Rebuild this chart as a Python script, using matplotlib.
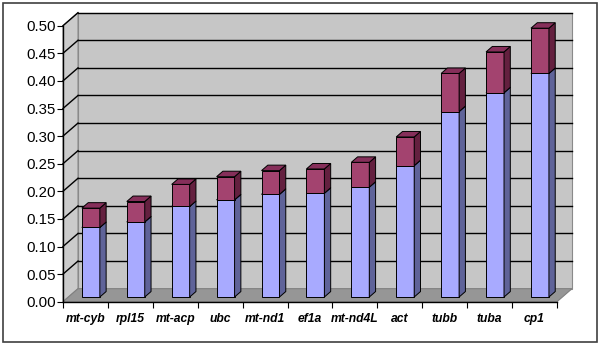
import matplotlib.pyplot as plt
from matplotlib.patches import Polygon, Rectangle

genes = ['mt-cyb', 'rpl15', 'mt-acp', 'ubc', 'mt-nd1', 'ef1a', 'mt-nd4L', 'act', 'tubb', 'tuba', 'cp1']
lower = [0.126, 0.136, 0.164, 0.176, 0.186, 0.188, 0.199, 0.238, 0.336, 0.370, 0.405]
total = [0.161, 0.173, 0.204, 0.218, 0.229, 0.232, 0.244, 0.290, 0.405, 0.444, 0.487]
yticks = [0.0, 0.05, 0.1, 0.15, 0.2, 0.25, 0.3, 0.35, 0.4, 0.45, 0.5]

# depth of the fake 3d box, in data units
DX = 0.334
DY = 0.0236
BAR_FRONT = 0.36
BAR_BACK = 0.78
BAR_W = 0.4

plt.rcParams['font.family'] = ['Liberation Sans', 'DejaVu Sans']

fig = plt.figure(figsize=(6.0, 3.45), dpi=100)
ax = fig.add_axes([63 / 600, 43.3 / 345, 494 / 600, 276 / 345])
ax.set_xlim(0, len(genes))
ax.set_ylim(0, 0.5)
ax.patch.set_visible(False)

n = len(genes)
top = 0.5

# walls and floor
back = Polygon([(DX, DY), (n + DX, DY), (n + DX, top + DY), (DX, top + DY)],
               facecolor='#c6c6c6', edgecolor='#8a8a8a', lw=0.8, clip_on=False, zorder=1)
side = Polygon([(0, 0), (DX, DY), (DX, top + DY), (0, top)],
               facecolor='#cbcbcb', edgecolor='#8a8a8a', lw=0.8, clip_on=False, zorder=1)
floor = Polygon([(0, 0), (n, 0), (n + DX, DY), (DX, DY)],
                facecolor='#969696', edgecolor='#808080', lw=0.8, clip_on=False, zorder=1)
for p in (back, side, floor):
    ax.add_patch(p)

# gridlines on back wall and side wall
for v in yticks[1:]:
    ax.plot([DX, n + DX], [v + DY, v + DY], color='black', lw=1.0, zorder=2, clip_on=False)
    ax.plot([0, DX], [v, v + DY], color='black', lw=1.0, zorder=2, clip_on=False)


def box(x0, y0, y1, front, topc, sidec, z):
    fx, fy = BAR_FRONT * DX, BAR_FRONT * DY
    bx, by = BAR_BACK * DX, BAR_BACK * DY
    l, r = x0 + fx, x0 + BAR_W + fx
    b, t = y0 + fy, y1 + fy
    sx, sy = bx - fx, by - fy
    ax.add_patch(Polygon([(l, b), (r, b), (r, t), (l, t)], facecolor=front,
                         edgecolor='black', lw=0.7, zorder=z, clip_on=False))
    ax.add_patch(Polygon([(r, b), (r + sx, b + sy), (r + sx, t + sy), (r, t)], facecolor=sidec,
                         edgecolor='black', lw=0.7, zorder=z, clip_on=False))
    ax.add_patch(Polygon([(l, t), (r, t), (r + sx, t + sy), (l + sx, t + sy)], facecolor=topc,
                         edgecolor='black', lw=0.7, zorder=z, clip_on=False))


for i in range(n):
    x0 = i + 0.5 - BAR_W / 2
    box(x0, 0, lower[i], '#a8aaff', '#8a8cd6', '#5f6399', 3 + i)
    box(x0, lower[i], total[i], '#a3436f', '#862f5a', '#64203f', 3 + i)

# axes
for s in ('top', 'right'):
    ax.spines[s].set_visible(False)
ax.spines['left'].set_zorder(20)
ax.spines['bottom'].set_zorder(20)
ax.spines['left'].set_linewidth(1.0)
ax.spines['bottom'].set_linewidth(1.0)

ax.set_yticks(yticks)
ax.set_yticklabels(['%.2f' % v for v in yticks], fontsize=10.8)
ax.tick_params(axis='y', direction='out', length=4, pad=1)

ax.set_xticks(range(n + 1))
ax.set_xticklabels([])
ax.set_xticks([i + 0.5 for i in range(n)], minor=True)
ax.set_xticklabels(genes, minor=True, fontsize=8.7, fontweight='bold', fontstyle='italic')
ax.tick_params(axis='x', which='major', direction='out', length=4)
ax.tick_params(axis='x', which='minor', length=0, pad=8)

# chart border
fig.add_artist(Rectangle((3 / 600, 3 / 345), 594 / 600, 339 / 345, transform=fig.transFigure,
                         fill=False, edgecolor='#404040', lw=1.2))

fig.savefig('out.png', dpi=100)
